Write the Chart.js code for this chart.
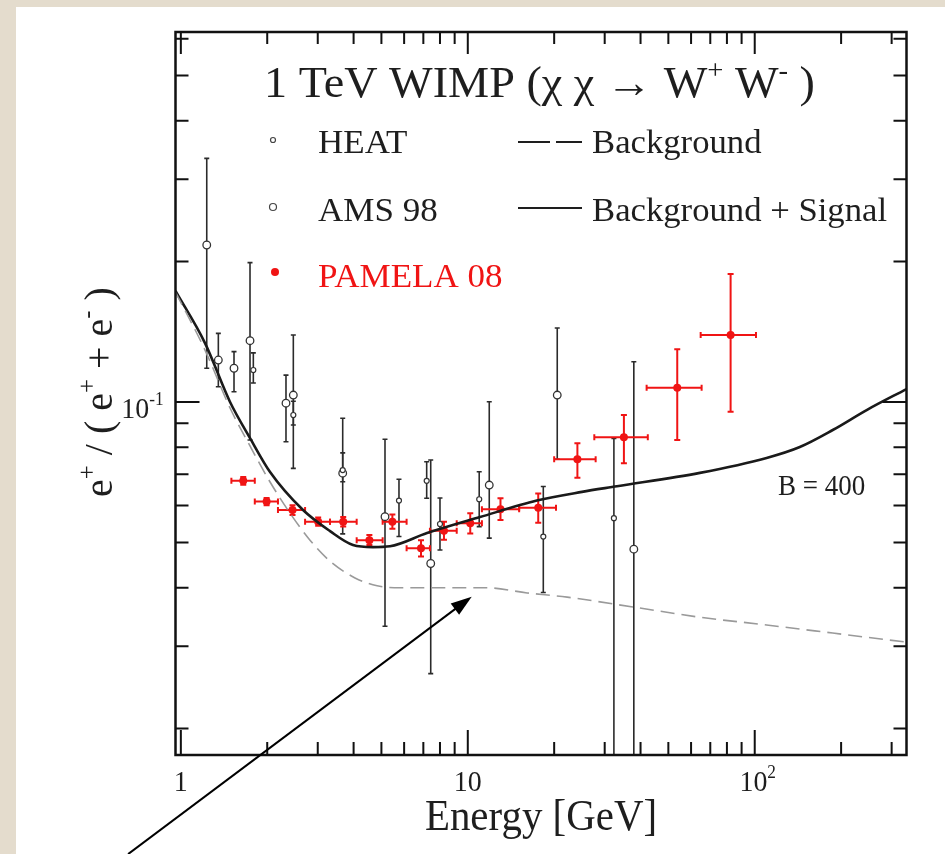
<!DOCTYPE html>
<html>
<head>
<meta charset="utf-8">
<script src="https://cdn.jsdelivr.net/npm/chart.js@4.4.1/dist/chart.umd.min.js"></script>
<style>
  html, body { margin: 0; padding: 0; }
  body { width: 945px; height: 854px; background: #e4dccd; position: relative; overflow: hidden; }
  #panel { position: absolute; left: 16px; top: 7px; right: 0; bottom: 0; background: #fff; }
  #chart { position: absolute; left: 0; top: 0; }
</style>
</head>
<body>
<div id="panel"></div>
<canvas id="chart" width="945" height="854"></canvas>
<script>
// curves (energy in GeV, positron fraction)
const bgEnergy = [0.958, 1.214, 1.484, 1.742, 2.046, 2.402, 2.819, 3.311, 4.045, 4.83, 5.805, 7.385, 11.67, 16.1, 22.2, 37.6, 64.4, 110, 187, 338];
const bgRatio  = [0.172, 0.1292, 0.0971, 0.0805, 0.0674, 0.0578, 0.0506, 0.0456, 0.042, 0.0404, 0.040, 0.040, 0.040, 0.039, 0.0382, 0.0364, 0.0346, 0.0333, 0.032, 0.0306];

const sigEnergy = [0.958, 1.214, 1.484, 1.742, 2.046, 2.666, 3.311, 3.98, 4.67, 5.357, 7.21, 11.03, 17.4, 25.0, 33.1, 64.4, 110, 143.6, 187, 245.5, 338];
const sigRatio  = [0.1729, 0.1337, 0.100, 0.0837, 0.0708, 0.0587, 0.0529, 0.0494, 0.0489, 0.0491, 0.0524, 0.0567, 0.0615, 0.0642, 0.066, 0.0705, 0.0759, 0.0801, 0.0871, 0.0961, 0.1066];

// PAMELA 08
const pamE   = [1.65, 1.99, 2.45, 3.01, 3.68, 4.54, 5.46, 6.87, 8.26, 10.2, 13.0, 17.6, 24.1, 35.0, 53.7, 82.4];
const pamELo = [1.50, 1.81, 2.18, 2.71, 3.31, 4.10, 5.05, 6.12, 7.38, 9.15, 11.2, 15.1, 20.0, 27.6, 42.0, 64.8];
const pamEHi = [1.81, 2.18, 2.71, 3.31, 4.10, 5.05, 6.12, 7.38, 9.15, 11.2, 15.1, 20.3, 27.9, 42.4, 65.3, 101];
const pamR   = [0.0678, 0.0612, 0.0587, 0.0554, 0.0554, 0.0506, 0.0554, 0.0486, 0.0530, 0.0550, 0.0589, 0.0594, 0.0754, 0.0840, 0.1073, 0.1392];
const pamRLo = [0.0665, 0.0601, 0.0573, 0.0543, 0.0541, 0.0494, 0.0535, 0.0467, 0.0507, 0.0523, 0.0559, 0.0551, 0.0688, 0.0739, 0.0829, 0.0953];
const pamRHi = [0.0691, 0.0623, 0.0601, 0.0566, 0.0567, 0.0519, 0.0574, 0.0506, 0.0554, 0.0578, 0.0622, 0.0637, 0.0816, 0.0938, 0.1297, 0.188];

// AMS 98
const amsE   = [1.231, 1.351, 1.532, 1.742, 2.325, 2.466, 3.665, 5.146, 7.427, 11.88, 20.5, 37.9];
const amsR   = [0.2169, 0.1230, 0.1181, 0.1353, 0.0994, 0.1035, 0.0704, 0.0568, 0.0451, 0.0664, 0.1035, 0.0484];
const amsRLo = [0.1181, 0.1078, 0.1052, 0.0829, 0.0822, 0.0721, 0.0522, 0.0331, 0.0262, 0.0511, 0.0754, 0.005];
const amsRHi = [0.3325, 0.1403, 0.1282, 0.1988, 0.1142, 0.1392, 0.0923, 0.0832, 0.0751, 0.1001, 0.144, 0.122];

// HEAT
const heatE   = [1.789, 2.466, 3.665, 5.757, 7.19, 8.0, 10.96, 18.33, 32.3];
const heatR   = [0.1171, 0.0938, 0.0715, 0.0615, 0.0678, 0.0548, 0.0619, 0.0515, 0.0564];
const heatRLo = [0.1098, 0.0893, 0.0675, 0.0515, 0.0622, 0.0482, 0.0541, 0.0391, 0.005];
const heatRHi = [0.1274, 0.1004, 0.0778, 0.0683, 0.0745, 0.0623, 0.0709, 0.0659, 0.0836];

// axis ticks
const xMajor = [1, 10, 100];
const xMinor = [2, 3, 4, 5, 6, 7, 8, 9, 20, 30, 40, 50, 60, 70, 80, 90, 200, 300];
const yMajor = [0.1];
const yMinor = [0.02, 0.03, 0.04, 0.05, 0.06, 0.07, 0.08, 0.09, 0.2, 0.3, 0.4, 0.5, 0.6];

// arrow annotation (from, to) in data units
const arrowFrom = [0.655, 0.01076];
const arrowTo = [10.32, 0.0383];

const SERIF = '"Liberation Serif", "DejaVu Serif", serif';
const RED = '#f01414';
const INK = '#1e1e1e';

function pts(xs, ys) {
  return xs.map((v, i) => ({ x: v, y: ys[i] }));
}

// draws text with superscripts; parts: strings or [string] for superscript
function drawRich(ctx, parts, x, y, size, sx, color, align) {
  ctx.save();
  ctx.fillStyle = color;
  ctx.textBaseline = 'alphabetic';
  ctx.textAlign = 'left';
  let w = 0;
  parts.forEach(p => {
    const sup = Array.isArray(p);
    ctx.font = (sup ? size * 0.62 : size) + 'px ' + SERIF;
    w += ctx.measureText(sup ? p[0] : p).width;
  });
  ctx.translate(x, y);
  ctx.scale(sx, 1);
  let cx = align === 'center' ? -w / 2 : 0;
  parts.forEach(p => {
    const sup = Array.isArray(p);
    const t = sup ? p[0] : p;
    ctx.font = (sup ? size * 0.62 : size) + 'px ' + SERIF;
    ctx.fillText(t, cx, sup ? -size * 0.42 : 0);
    cx += ctx.measureText(t).width;
  });
  ctx.restore();
}

const errorBars = {
  id: 'errorBars',
  beforeDatasetsDraw(chart) {
    const { ctx, chartArea: a, scales: { x, y } } = chart;
    ctx.save();
    ctx.beginPath();
    ctx.rect(a.left, a.top, a.right - a.left, a.bottom - a.top);
    ctx.clip();

    ctx.strokeStyle = '#2b2b2b';
    ctx.lineWidth = 1.6;
    [[amsE, amsRLo, amsRHi], [heatE, heatRLo, heatRHi]].forEach(([xs, lo, hi]) => {
      xs.forEach((e, i) => {
        const px = x.getPixelForValue(e);
        const t = y.getPixelForValue(hi[i]);
        const b = y.getPixelForValue(lo[i]);
        ctx.beginPath();
        ctx.moveTo(px, t); ctx.lineTo(px, b);
        ctx.moveTo(px - 2.5, t); ctx.lineTo(px + 2.5, t);
        ctx.moveTo(px - 2.5, b); ctx.lineTo(px + 2.5, b);
        ctx.stroke();
      });
    });

    ctx.strokeStyle = RED;
    ctx.lineWidth = 2;
    pamE.forEach((e, i) => {
      const px = x.getPixelForValue(e);
      const py = y.getPixelForValue(pamR[i]);
      const l = x.getPixelForValue(pamELo[i]);
      const r = x.getPixelForValue(pamEHi[i]);
      const t = y.getPixelForValue(pamRHi[i]);
      const b = y.getPixelForValue(pamRLo[i]);
      ctx.beginPath();
      ctx.moveTo(l, py); ctx.lineTo(r, py);
      ctx.moveTo(l, py - 3); ctx.lineTo(l, py + 3);
      ctx.moveTo(r, py - 3); ctx.lineTo(r, py + 3);
      ctx.moveTo(px, t); ctx.lineTo(px, b);
      ctx.moveTo(px - 3, t); ctx.lineTo(px + 3, t);
      ctx.moveTo(px - 3, b); ctx.lineTo(px + 3, b);
      ctx.stroke();
    });
    ctx.restore();
  }
};

const frameAndText = {
  id: 'frameAndText',
  afterDraw(chart) {
    const { ctx, chartArea: a, scales: { x, y } } = chart;
    ctx.save();
    ctx.strokeStyle = '#111';

    // ticks, inward on all four sides
    ctx.lineWidth = 2;
    ctx.beginPath();
    xMajor.concat(xMinor).forEach(v => {
      const px = x.getPixelForValue(v);
      const major = xMajor.includes(v);
      ctx.moveTo(px, a.bottom); ctx.lineTo(px, a.bottom - (major ? 25 : 13));
      ctx.moveTo(px, a.top); ctx.lineTo(px, a.top + (major ? 22 : 12));
    });
    yMajor.concat(yMinor).forEach(v => {
      const py = y.getPixelForValue(v);
      const major = yMajor.includes(v);
      ctx.moveTo(a.left, py); ctx.lineTo(a.left + (major ? 24 : 13), py);
      ctx.moveTo(a.right, py); ctx.lineTo(a.right - (major ? 24 : 13), py);
    });
    ctx.stroke();

    ctx.lineWidth = 2.5;
    ctx.strokeRect(a.left, a.top, a.right - a.left, a.bottom - a.top);

    // tick labels
    const xl = a.bottom + 36;
    drawRich(ctx, ['1'], x.getPixelForValue(1), xl, 30, 0.93, INK, 'center');
    drawRich(ctx, ['10'], x.getPixelForValue(10), xl, 30, 0.93, INK, 'center');
    drawRich(ctx, ['10', ['2']], x.getPixelForValue(100) + 3, xl, 30, 0.93, INK, 'center');
    drawRich(ctx, ['10', ['-1']], a.left - 33, y.getPixelForValue(0.1) + 16, 30, 0.93, INK, 'center');

    // axis titles
    drawRich(ctx, ['Energy [GeV]'], 541, 830, 44, 0.93, INK, 'center');
    ctx.save();
    ctx.translate(112, 392);
    ctx.rotate(-Math.PI / 2);
    drawRich(ctx, ['e', ['+'], ' / ( e', ['+'], ' + e', ['-'], ' )'], 0, 0, 40, 1, INK, 'center');
    ctx.restore();

    // title
    drawRich(ctx, ['1 TeV WIMP (\u03C7 \u03C7 \u2192 W', ['+'], ' W', ['-'], ' )'], 264, 97, 44, 1.05, INK, 'left');

    // legend
    ctx.lineWidth = 1.2;
    ctx.strokeStyle = '#444';
    ctx.beginPath(); ctx.arc(273, 140, 2.5, 0, Math.PI * 2); ctx.stroke();
    ctx.beginPath(); ctx.arc(273, 207, 3.5, 0, Math.PI * 2); ctx.stroke();
    ctx.fillStyle = RED;
    ctx.beginPath(); ctx.arc(275, 272, 4, 0, Math.PI * 2); ctx.fill();
    drawRich(ctx, ['HEAT'], 318, 153, 34, 1.03, INK, 'left');
    drawRich(ctx, ['AMS 98'], 318, 221, 34, 1.03, INK, 'left');
    drawRich(ctx, ['PAMELA 08'], 318, 287, 34, 1.03, RED, 'left');
    ctx.strokeStyle = INK;
    ctx.lineWidth = 2;
    ctx.beginPath();
    ctx.moveTo(518, 142); ctx.lineTo(550, 142);
    ctx.moveTo(556, 142); ctx.lineTo(582, 142);
    ctx.moveTo(518, 208); ctx.lineTo(582, 208);
    ctx.stroke();
    drawRich(ctx, ['Background'], 592, 153, 34, 1.02, INK, 'left');
    drawRich(ctx, ['Background + Signal'], 592, 221, 34, 1.02, INK, 'left');

    drawRich(ctx, ['B = 400'], 778, 495, 30, 0.9, INK, 'left');

    // arrow
    const x0 = x.getPixelForValue(arrowFrom[0]), y0 = y.getPixelForValue(arrowFrom[1]);
    const x1 = x.getPixelForValue(arrowTo[0]), y1 = y.getPixelForValue(arrowTo[1]);
    const ang = Math.atan2(y1 - y0, x1 - x0);
    ctx.strokeStyle = '#000';
    ctx.fillStyle = '#000';
    ctx.lineWidth = 2;
    ctx.beginPath();
    ctx.moveTo(x0, y0);
    ctx.lineTo(x1 - 15 * Math.cos(ang), y1 - 15 * Math.sin(ang));
    ctx.stroke();
    ctx.beginPath();
    ctx.moveTo(x1, y1);
    ctx.lineTo(x1 - 21 * Math.cos(ang) + 7 * Math.sin(ang), y1 - 21 * Math.sin(ang) - 7 * Math.cos(ang));
    ctx.lineTo(x1 - 21 * Math.cos(ang) - 7 * Math.sin(ang), y1 - 21 * Math.sin(ang) + 7 * Math.cos(ang));
    ctx.closePath();
    ctx.fill();
    ctx.restore();
  }
};

const ctx = document.getElementById('chart').getContext('2d');
const chart = new Chart(ctx, {
  type: 'scatter',
  data: {
    datasets: [
      {
        label: 'Background',
        data: pts(bgEnergy, bgRatio),
        showLine: true,
        borderColor: '#9a9a9a',
        borderWidth: 1.6,
        borderDash: [14, 7],
        pointRadius: 0,
        cubicInterpolationMode: 'monotone'
      },
      {
        label: 'Background + Signal',
        data: pts(sigEnergy, sigRatio),
        showLine: true,
        borderColor: '#1a1a1a',
        borderWidth: 2.6,
        pointRadius: 0,
        cubicInterpolationMode: 'monotone'
      },
      {
        label: 'HEAT',
        data: pts(heatE, heatR),
        pointStyle: 'circle',
        pointRadius: 2.5,
        backgroundColor: '#fff',
        borderColor: '#333',
        borderWidth: 1.2
      },
      {
        label: 'AMS 98',
        data: pts(amsE, amsR),
        pointStyle: 'circle',
        pointRadius: 3.8,
        backgroundColor: '#fff',
        borderColor: '#333',
        borderWidth: 1.3
      },
      {
        label: 'PAMELA 08',
        data: pts(pamE, pamR),
        pointStyle: 'circle',
        pointRadius: 4,
        backgroundColor: RED,
        borderColor: RED,
        borderWidth: 0
      }
    ]
  },
  options: {
    responsive: false,
    devicePixelRatio: 1,
    animation: false,
    layout: { padding: { left: 175.5, top: 32, right: 38.5, bottom: 99 } },
    scales: {
      x: { type: 'logarithmic', min: 0.958, max: 338, display: false },
      y: { type: 'logarithmic', min: 0.01754, max: 0.62, display: false }
    },
    plugins: {
      legend: { display: false },
      tooltip: { enabled: false }
    }
  },
  plugins: [errorBars, frameAndText]
});
</script>
</body>
</html>
